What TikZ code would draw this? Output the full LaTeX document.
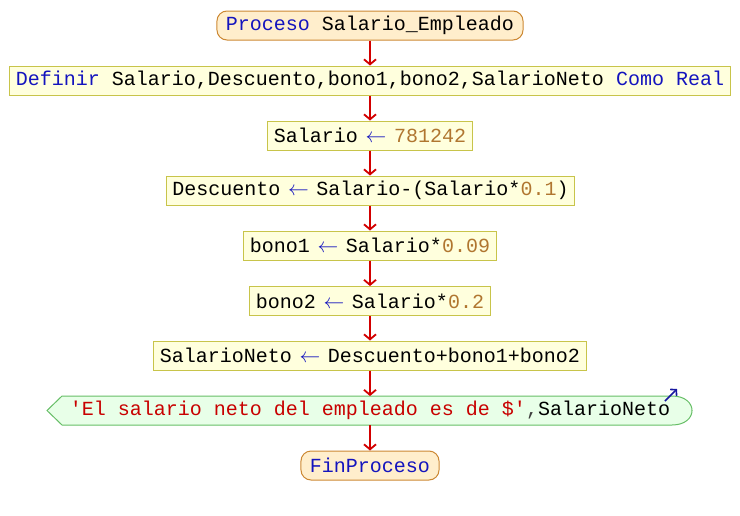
\documentclass[tikz,border=0pt]{standalone}
\usepackage{fontspec}
\newfontfamily\codefont{Liberation Mono}
\usetikzlibrary{arrows.meta}
\definecolor{kw}{RGB}{20,20,190}
\definecolor{num}{RGB}{176,118,48}
\definecolor{str}{RGB}{200,0,0}
\definecolor{flow}{RGB}{210,0,0}
\definecolor{termfill}{RGB}{255,238,204}
\definecolor{termdraw}{RGB}{204,136,51}
\definecolor{procfill}{RGB}{255,255,221}
\definecolor{procdraw}{RGB}{200,196,74}
\definecolor{outfill}{RGB}{232,255,232}
\definecolor{outdraw}{RGB}{102,190,102}
\definecolor{outmark}{RGB}{24,24,160}
\newcommand{\kw}[1]{\textcolor{kw}{#1}}
\newcommand{\nm}[1]{\textcolor{num}{#1}}
% assignment arrow, one character cell wide
\newcommand{\asg}{\makebox[12pt]{\textcolor{kw}{$\leftarrow$}}}
\begin{document}
\begin{tikzpicture}[x=1pt,y=-1pt,
  every node/.style={font=\codefont\fontsize{20}{24}\selectfont, text=black},
  term/.style={draw=termdraw, fill=termfill, line width=1pt, rounded corners=10pt,
    minimum height=29pt, inner xsep=9pt, inner ysep=0pt},
  proc/.style={draw=procdraw, fill=procfill, line width=1pt,
    minimum height=29pt, inner xsep=6pt, inner ysep=0pt},
  outtext/.style={minimum height=29pt, inner sep=0pt},
  flowarrow/.style={draw=flow, line width=1.8pt, -{Straight Barb[length=5pt,width=12pt,line width=1.8pt]}}
]
\useasboundingbox (0,0) rectangle (740,515);

\node[term] (start) at (370,25.5) {\kw{Proceso} Salario\_Empleado};
\node[proc] (def) at (370,80.5) {\kw{Definir} Salario,Descuento,bono1,bono2,SalarioNeto \kw{Como} \kw{Real}};
\node[proc] (s1) at (370,135.5) {Salario \asg{} \nm{781242}};
\node[proc] (s2) at (370.5,190.5) {Descuento \asg{} Salario-(Salario*\nm{0.1})};
\node[proc] (s3) at (370,245.5) {bono1 \asg{} Salario*\nm{0.09}};
\node[proc] (s4) at (370,301) {bono2 \asg{} Salario*\nm{0.2}};
\node[proc] (s5) at (370,355.5) {SalarioNeto \asg{} Descuento+bono1+bono2};

% output block: pointed left end, rounded right end
\filldraw[draw=outdraw, fill=outfill, line width=1pt]
  (47,410.5) -- (62,396) -- (672,396)
  .. controls (698.7,396) and (698.7,425) .. (672,425)
  -- (62,425) -- cycle;
\draw[outmark, line width=1.6pt, -{Straight Barb[length=4pt,width=9pt,line width=1.6pt]}] (665,401) -- (677,389);
\node[outtext] (out) at (370,410.5) {\textcolor{str}{'El salario neto del empleado es de \$'}\textcolor{darkgray}{,}SalarioNeto};

\node[term] (end) at (370,465.5) {\kw{FinProceso}};

\draw[flowarrow] (start) -- (def);
\draw[flowarrow] (def) -- (s1);
\draw[flowarrow] (s1) -- (s2.north -| s1);
\draw[flowarrow] (s2.south -| s1) -- (s3);
\draw[flowarrow] (s3) -- (s4);
\draw[flowarrow] (s4) -- (s5);
\draw[flowarrow] (s5) -- (370,396);
\draw[flowarrow] (370,425) -- (end);
\end{tikzpicture}
\end{document}
